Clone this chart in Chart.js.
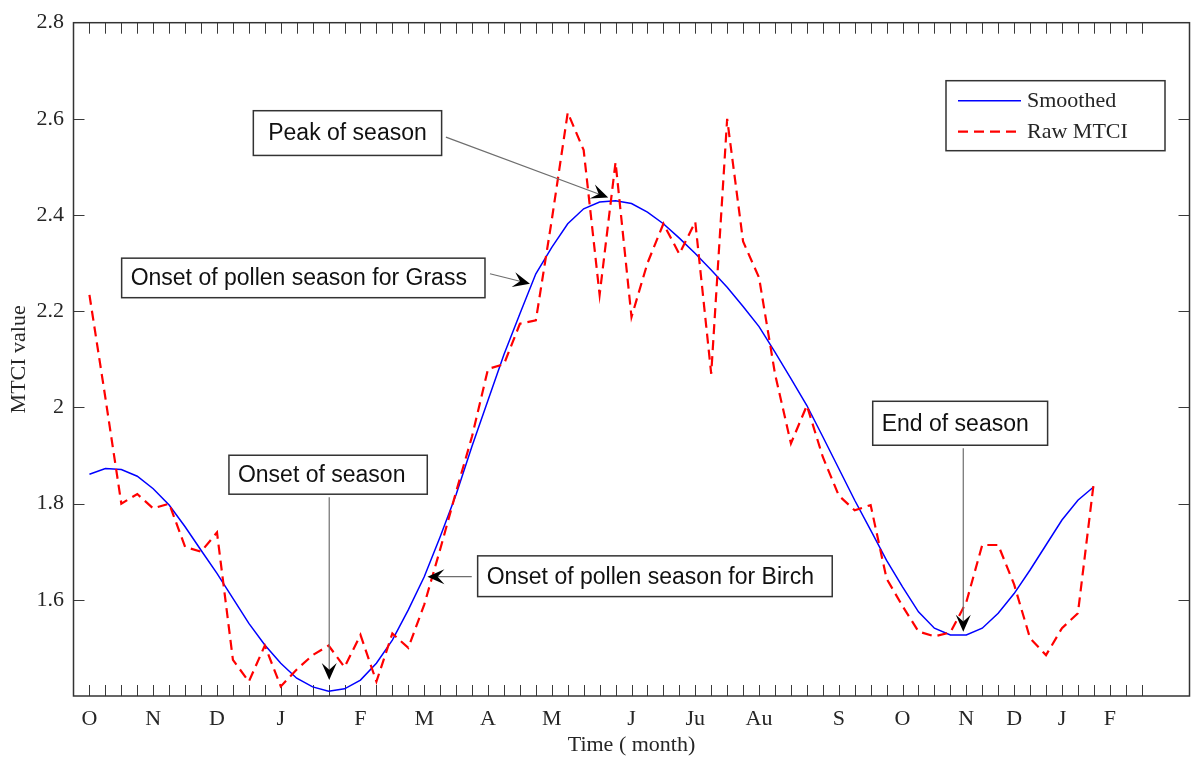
<!DOCTYPE html>
<html>
<head>
<meta charset="utf-8">
<script src="https://cdn.jsdelivr.net/npm/chart.js@4.4.1/dist/chart.umd.min.js"></script>
<style>
  html, body { margin: 0; padding: 0; background: #ffffff; }
  canvas { display: block; }
</style>
</head>
<body>
<canvas id="c" width="1192" height="758"></canvas>
<script>
// ---- data (8-day composite periods, x = 1 .. 64) ----
const smoothed = [
  1.861, 1.873, 1.871, 1.857, 1.831, 1.797, 1.752, 1.703, 1.655, 1.603,
  1.551, 1.506, 1.468, 1.437, 1.419, 1.410, 1.415, 1.433, 1.468, 1.516,
  1.579, 1.648, 1.731, 1.819, 1.920, 2.015, 2.110, 2.195, 2.278, 2.333,
  2.382, 2.413, 2.427, 2.430, 2.424, 2.406, 2.382, 2.352, 2.320, 2.286,
  2.250, 2.210, 2.168, 2.115, 2.060, 2.004, 1.939, 1.873, 1.807, 1.745,
  1.682, 1.627, 1.575, 1.541, 1.527, 1.527, 1.541, 1.572, 1.613, 1.662,
  1.714, 1.766, 1.807, 1.835
];
const rawMTCI = [
  2.234, 2.020, 1.800, 1.820, 1.790, 1.800, 1.710, 1.700, 1.740, 1.475,
  1.430, 1.505, 1.420, 1.455, 1.485, 1.505, 1.460, 1.527, 1.430, 1.530,
  1.500, 1.590, 1.705, 1.825, 1.940, 2.080, 2.090, 2.174, 2.181, 2.390,
  2.613, 2.535, 2.234, 2.510, 2.188, 2.300, 2.382, 2.319, 2.386, 2.070,
  2.600, 2.345, 2.270, 2.070, 1.925, 2.004, 1.897, 1.817, 1.786, 1.797,
  1.644, 1.587, 1.534, 1.524, 1.532, 1.595, 1.714, 1.714, 1.632, 1.520,
  1.485, 1.541, 1.572, 1.845
];
const monthLabels        = ['O','N','D','J','F','M','A','M','J','Ju','Au','S','O','N','D','J','F'];
const monthTickPositions = [ 1,  5,  9, 13, 18, 22, 26, 30, 35, 39,  43, 48, 52, 56, 59, 62, 65];
const xTickCount = 67;
const yTickValues = [1.6, 1.8, 2.0, 2.2, 2.4, 2.6, 2.8];
const seriesNames = ['Smoothed', 'Raw MTCI'];

// annotation boxes and arrows, in data units: box = [x1, x2, yTop, yBottom]
const annotations = [
  { text: 'Peak of season', box: [11.28, 23.09, 2.617, 2.524], from: [23.36, 2.562], to: [33.54, 2.4365], centered: true },
  { text: 'Onset of pollen season for Grass', box: [3.02, 25.81, 2.3104, 2.2282], from: [26.12, 2.278], to: [28.63, 2.2572] },
  { text: 'Onset of season', box: [9.75, 22.19, 1.9006, 1.8196], from: [16.04, 1.8133], to: [16.04, 1.4332] },
  { text: 'Onset of pollen season for Birch', box: [25.35, 47.59, 1.6914, 1.6067], from: [24.98, 1.6482], to: [22.20, 1.6482] },
  { text: 'End of season', box: [50.13, 61.10, 2.0128, 1.9214], from: [55.81, 1.9151], to: [55.81, 1.5336] }
];

// ---- styling ----
const SERIF = '"Liberation Serif", "Times New Roman", serif';
const SANS = '"Liberation Sans", Arial, sans-serif';
const INK = '#262626';
const TICK = 11;

const toXY = arr => arr.map((v, i) => ({ x: i + 1, y: v }));

const framePlugin = {
  id: 'frame',
  beforeDatasetsDraw(chart) {
    const { ctx, chartArea: a, scales: { x, y } } = chart;
    ctx.save();
    ctx.strokeStyle = '#3a3a3a';
    ctx.lineWidth = 1;
    ctx.beginPath();
    for (let k = 1; k <= xTickCount; k++) {
      const px = Math.round(x.getPixelForValue(k)) + 0.5;
      ctx.moveTo(px, a.bottom); ctx.lineTo(px, a.bottom - TICK);
      ctx.moveTo(px, a.top); ctx.lineTo(px, a.top + TICK);
    }
    yTickValues.forEach(v => {
      if (v <= y.min + 1e-9 || v >= y.max - 1e-9) return;
      const py = Math.round(y.getPixelForValue(v)) + 0.5;
      ctx.moveTo(a.left, py); ctx.lineTo(a.left + TICK, py);
      ctx.moveTo(a.right, py); ctx.lineTo(a.right - TICK, py);
    });
    ctx.stroke();
    ctx.lineWidth = 1.5;
    ctx.strokeStyle = '#333333';
    ctx.strokeRect(a.left, a.top, a.right - a.left, a.bottom - a.top);
    ctx.restore();
  }
};

function drawArrow(ctx, x1, y1, x2, y2) {
  const dx = x2 - x1, dy = y2 - y1, L = Math.hypot(dx, dy);
  const ux = dx / L, uy = dy / L, nx = -uy, ny = ux;
  const HL = 17, HW = 7.5, NOTCH = 0.6;
  ctx.strokeStyle = '#6e6e6e';
  ctx.lineWidth = 1.2;
  ctx.beginPath();
  ctx.moveTo(x1, y1);
  ctx.lineTo(x2 - ux * HL * NOTCH, y2 - uy * HL * NOTCH);
  ctx.stroke();
  ctx.fillStyle = '#000000';
  ctx.beginPath();
  ctx.moveTo(x2, y2);
  ctx.lineTo(x2 - ux * HL + nx * HW, y2 - uy * HL + ny * HW);
  ctx.lineTo(x2 - ux * HL * NOTCH, y2 - uy * HL * NOTCH);
  ctx.lineTo(x2 - ux * HL - nx * HW, y2 - uy * HL - ny * HW);
  ctx.closePath();
  ctx.fill();
}

const overlayPlugin = {
  id: 'overlay',
  afterDatasetsDraw(chart) {
    const { ctx, chartArea: a, scales: { x, y } } = chart;
    ctx.save();
    // annotations
    annotations.forEach(an => {
      const bx1 = x.getPixelForValue(an.box[0]), bx2 = x.getPixelForValue(an.box[1]);
      const by1 = y.getPixelForValue(an.box[2]), by2 = y.getPixelForValue(an.box[3]);
      ctx.fillStyle = '#ffffff';
      ctx.fillRect(bx1, by1, bx2 - bx1, by2 - by1);
      ctx.lineWidth = 1.5;
      ctx.strokeStyle = '#333333';
      ctx.strokeRect(bx1, by1, bx2 - bx1, by2 - by1);
      ctx.font = '23px ' + SANS;
      ctx.fillStyle = '#111111';
      ctx.textBaseline = 'middle';
      if (an.centered) {
        ctx.textAlign = 'center';
        ctx.fillText(an.text, (bx1 + bx2) / 2, (by1 + by2) / 2 + 1);
      } else {
        ctx.textAlign = 'left';
        ctx.fillText(an.text, bx1 + 9, (by1 + by2) / 2 + 1);
      }
      drawArrow(ctx,
        x.getPixelForValue(an.from[0]), y.getPixelForValue(an.from[1]),
        x.getPixelForValue(an.to[0]), y.getPixelForValue(an.to[1]));
    });
    // legend
    const lw = 219, lh = 70;
    const lx = a.right - 24.5 - lw, ly = a.top + 58;
    ctx.fillStyle = '#ffffff';
    ctx.fillRect(lx, ly, lw, lh);
    ctx.lineWidth = 1.5;
    ctx.strokeStyle = '#333333';
    ctx.strokeRect(lx, ly, lw, lh);
    ctx.font = '22px ' + SERIF;
    ctx.textAlign = 'left';
    ctx.textBaseline = 'middle';
    chart.data.datasets.forEach((ds, i) => {
      const rowY = ly + 20 + i * 31;
      ctx.strokeStyle = ds.borderColor;
      ctx.lineWidth = ds.borderWidth;
      ctx.setLineDash(ds.borderDash || []);
      ctx.beginPath();
      ctx.moveTo(lx + 12, rowY);
      ctx.lineTo(lx + 75, rowY);
      ctx.stroke();
      ctx.setLineDash([]);
      ctx.fillStyle = INK;
      ctx.fillText(ds.label, lx + 81, rowY + 1);
    });
    ctx.restore();
  }
};

new Chart(document.getElementById('c').getContext('2d'), {
  type: 'line',
  data: {
    datasets: [
      {
        label: seriesNames[0],
        data: toXY(smoothed),
        borderColor: '#0000ff',
        borderWidth: 1.5,
        pointRadius: 0,
        tension: 0,
        fill: false,
        order: 2
      },
      {
        label: seriesNames[1],
        data: toXY(rawMTCI),
        borderColor: '#ff0000',
        borderWidth: 2.2,
        borderDash: [10, 6],
        pointRadius: 0,
        tension: 0,
        fill: false,
        order: 1
      }
    ]
  },
  options: {
    responsive: false,
    animation: false,
    devicePixelRatio: 1,
    layout: { padding: { top: 22, right: 2.5, bottom: 0, left: 0 } },
    plugins: {
      legend: { display: false },
      tooltip: { enabled: false },
      title: { display: false }
    },
    scales: {
      x: {
        type: 'linear',
        min: 0,
        max: 70,
        grid: { display: false, drawTicks: false },
        border: { display: false },
        afterBuildTicks: s => {
          const t = [];
          for (let k = 1; k <= xTickCount; k++) t.push({ value: k });
          s.ticks = t;
        },
        afterFit: s => { s.height = 62; },
        ticks: {
          autoSkip: false,
          maxRotation: 0,
          padding: 10,
          color: INK,
          font: { family: SERIF, size: 22 },
          callback: v => {
            const i = monthTickPositions.indexOf(v);
            return i >= 0 ? monthLabels[i] : '';
          }
        },
        title: {
          display: true,
          text: 'Time ( month)',
          color: INK,
          font: { family: SERIF, size: 22 },
          padding: { top: 0, bottom: 0 }
        }
      },
      y: {
        type: 'linear',
        min: 1.4,
        max: 2.8,
        grid: { display: false, drawTicks: false },
        border: { display: false },
        afterBuildTicks: s => { s.ticks = [1.4].concat(yTickValues).map(v => ({ value: v })); },
        afterFit: s => { s.width = 73.5; },
        ticks: {
          padding: 9.5,
          color: INK,
          font: { family: SERIF, size: 22 },
          callback: v => (Math.abs(v - 1.4) < 1e-9 ? '' : String(Math.round(v * 10) / 10))
        },
        title: {
          display: true,
          text: 'MTCI value',
          color: INK,
          font: { family: SERIF, size: 22 },
          padding: { top: 6, bottom: 0 }
        }
      }
    }
  },
  plugins: [framePlugin, overlayPlugin]
});
</script>
</body>
</html>
